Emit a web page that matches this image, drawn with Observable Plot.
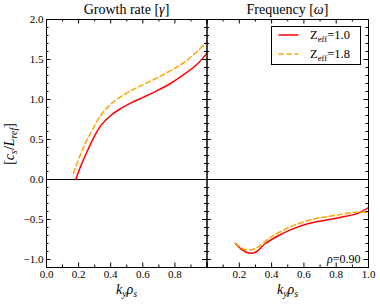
<!DOCTYPE html>
<html><head><meta charset="utf-8">
<script src="https://cdn.jsdelivr.net/npm/d3@7"></script>
<script src="https://cdn.jsdelivr.net/npm/@observablehq/plot@0.6"></script>
<style>
body{margin:0;background:#fff;}
#wrap{position:relative;width:380px;height:304px;font-family:"Liberation Serif","Times New Roman","DejaVu Serif",serif;color:#000;overflow:hidden;}
#wrap svg{position:absolute;top:0;}
#wrap svg text{font-family:"Liberation Serif","Times New Roman","DejaVu Serif",serif;}
.lab{position:absolute;white-space:nowrap;line-height:1;}
sub{font-size:70%;vertical-align:baseline;position:relative;top:0.32em;}
</style></head><body><div id="wrap"></div>
<script>
// ---- data ----
const panelTitles = ["Growth rate", "Frequency"];
const seriesNames = ["1.0", "1.8"];
const seriesColors = ["#ff0000", "#ffa500"];

const kGrowthZ10 = [0.182, 0.218, 0.255, 0.296, 0.337, 0.400, 0.461, 0.524, 0.606, 0.689, 0.772, 0.855, 0.938, 1.0];
const growthZ10  = [0.00, 0.19, 0.36, 0.53, 0.67, 0.80, 0.885, 0.955, 1.03, 1.11, 1.20, 1.31, 1.44, 1.58];
const kGrowthZ18 = [0.168, 0.213, 0.244, 0.286, 0.337, 0.400, 0.482, 0.565, 0.668, 0.772, 0.876, 1.0];
const growthZ18  = [0.079, 0.32, 0.46, 0.62, 0.80, 0.94, 1.06, 1.15, 1.25, 1.36, 1.49, 1.72];

const kFreqZ10 = [0.176, 0.218, 0.258, 0.300, 0.362, 0.444, 0.527, 0.629, 0.732, 0.836, 0.938, 1.0];
const freqZ10  = [-0.80, -0.88, -0.92, -0.91, -0.80, -0.70, -0.62, -0.55, -0.51, -0.47, -0.42, -0.35];
const kFreqZ18 = [0.176, 0.227, 0.269, 0.320, 0.382, 0.465, 0.567, 0.670, 0.794, 0.918, 1.0];
const freqZ18  = [-0.80, -0.87, -0.88, -0.84, -0.74, -0.64, -0.55, -0.49, -0.45, -0.41, -0.41];

const xTicksMajorLeft  = [0.0, 0.2, 0.4, 0.6, 0.8];
const xTicksMajorRight = [0.2, 0.4, 0.6, 0.8, 1.0];
const xTicksMajor = [0.0, 0.2, 0.4, 0.6, 0.8, 1.0];
const xTicksMinor = [0.1, 0.3, 0.5, 0.7, 0.9];
const yTicksMajor = [-1.0, -0.5, 0.0, 0.5, 1.0, 1.5, 2.0];
const yTicksMinor = [-1.1, -0.9, -0.8, -0.7, -0.6, -0.4, -0.3, -0.2, -0.1, 0.1, 0.2, 0.3, 0.4, 0.6, 0.7, 0.8, 0.9, 1.1, 1.2, 1.3, 1.4, 1.6, 1.7, 1.8, 1.9];
const annotation = "0.90";

// ---- layout ----
const H = 304, MT = 19, MB = 37;
const innerH = H - MT - MB;
const fmt = d3.format(".1f");
const FONT = "'Liberation Serif', 'Times New Roman', 'DejaVu Serif', serif";
const zip = (ks, vs) => ks.map((k, i) => ({k, v: vs[i]}));

function panel({width, marginLeft, marginRight, series, xLabels, showY}) {
  const innerW = width - marginLeft - marginRight;
  const marks = [
    Plot.ruleY([0], {stroke: "#000", strokeWidth: 1.1}),
    ...series.map((s, i) => Plot.line(s, {x: "k", y: "v", stroke: seriesColors[i], strokeWidth: 1.5,
      strokeDasharray: i === 1 ? "5,3" : null, curve: "catmull-rom"})),
    Plot.tickX(xTicksMajor, {x: d => d, insetTop: innerH - 4.5, stroke: "#000"}),
    Plot.tickX(xTicksMinor, {x: d => d, insetTop: innerH - 2.5, stroke: "#000"}),
    Plot.tickX(xTicksMajor, {x: d => d, insetBottom: innerH - 4.5, stroke: "#000"}),
    Plot.tickX(xTicksMinor, {x: d => d, insetBottom: innerH - 2.5, stroke: "#000"}),
    Plot.tickY(yTicksMajor, {y: d => d, insetRight: innerW - 4.5, stroke: "#000"}),
    Plot.tickY(yTicksMinor, {y: d => d, insetRight: innerW - 2.5, stroke: "#000"}),
    Plot.tickY(yTicksMajor, {y: d => d, insetLeft: innerW - 4.5, stroke: "#000"}),
    Plot.tickY(yTicksMinor, {y: d => d, insetLeft: innerW - 2.5, stroke: "#000"}),
    Plot.axisX(xLabels, {anchor: "bottom", tickSize: 0, tickPadding: 3, tickFormat: fmt, label: null, fontSize: 11, fontFamily: FONT}),
    Plot.frame({stroke: "#000"})
  ];
  if (showY) marks.push(Plot.axisY(yTicksMajor, {anchor: "left", tickSize: 0, tickPadding: 3, tickFormat: fmt, label: null, fontSize: 11, fontFamily: FONT}));
  return Plot.plot({
    width, height: H, marginLeft, marginRight, marginTop: MT, marginBottom: MB,
    x: {domain: [0, 1]},
    y: {domain: [-1.1, 2.0], axis: showY ? undefined : null},
    style: {fontFamily: FONT, fontSize: "11px", background: "transparent", overflow: "visible", color: "#000"},
    marks
  });
}

const wrap = document.getElementById("wrap");
const left = panel({width: 207, marginLeft: 46, marginRight: 0.5,
  series: [zip(kGrowthZ10, growthZ10), zip(kGrowthZ18, growthZ18)], xLabels: xTicksMajorLeft, showY: true});
left.style.left = "0px";
const right = panel({width: 174, marginLeft: 0.5, marginRight: 12,
  series: [zip(kFreqZ10, freqZ10), zip(kFreqZ18, freqZ18)], xLabels: xTicksMajorRight, showY: false});
right.style.left = "206px";
wrap.appendChild(left);
wrap.appendChild(right);

function lab(html, css) {
  const d = document.createElement("div");
  d.className = "lab";
  d.innerHTML = html;
  Object.assign(d.style, css);
  wrap.appendChild(d);
  return d;
}
lab(panelTitles[0] + " [<i>γ</i>]", {left: "46px", width: "161px", textAlign: "center", top: "3px", fontSize: "14px"});
lab(panelTitles[1] + " [<i>ω</i>]", {left: "206.5px", width: "162px", textAlign: "center", top: "3px", fontSize: "14px"});
lab("<i>k<sub>y</sub>ρ<sub>s</sub></i>", {left: "46px", width: "161px", textAlign: "center", top: "283px", fontSize: "14px"});
lab("<i>k<sub>y</sub>ρ<sub>s</sub></i>", {left: "206.5px", width: "162px", textAlign: "center", top: "283px", fontSize: "14px"});
lab("[<i>c<sub>s</sub></i>/<i>L</i><sub><i>ref</i></sub>]", {left: "10px", top: "144px", fontSize: "14px",
  transform: "translate(-50%,-50%) rotate(-90deg)"});
lab("<i>ρ</i>=" + annotation, {left: "327px", top: "253px", fontSize: "12px"});
const leg = lab("", {left: "271px", top: "26px", width: "90px", height: "39px", border: "1px solid #000", background: "#fff", boxSizing: "border-box"});
seriesNames.forEach((n, i) => {
  const row = document.createElement("div");
  Object.assign(row.style, {position: "absolute", left: "0px", top: (i * 19) + "px", height: "19px", width: "90px"});
  row.innerHTML = `<svg width="30" height="19" style="position:absolute;left:6px;top:0"><line x1="0.5" x2="20.5" y1="8" y2="8" stroke="${seriesColors[i]}" stroke-width="1.5" ${i === 1 ? 'stroke-dasharray="5,3"' : ''}/></svg>` +
    `<span style="position:absolute;left:38px;top:2px;font-size:12.5px;line-height:1">Z<sub>eff</sub>=${n}</span>`;
  leg.appendChild(row);
});
</script></body></html>
